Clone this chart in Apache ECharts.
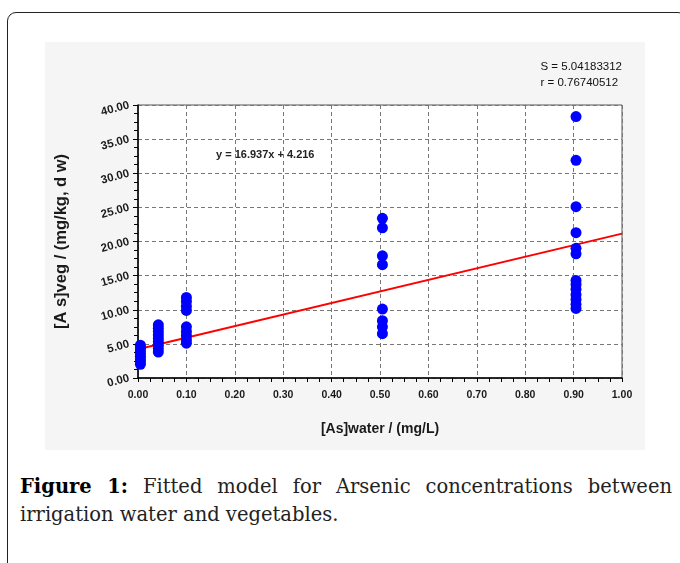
<!DOCTYPE html>
<html>
<head>
<meta charset="utf-8">
<script src="https://cdn.jsdelivr.net/npm/echarts@6/dist/echarts.min.js"></script>
<style>
  html, body { margin: 0; padding: 0; background: #fff; }
  body { width: 680px; height: 563px; position: relative; overflow: hidden; }
  #frame { position: absolute; left: 7px; top: 12px; width: 680px; height: 600px;
           border: 1.5px solid #222; border-radius: 9px 9px 0 0; box-sizing: border-box; }
  #chart { position: absolute; left: 45px; top: 42px; width: 600px; height: 408px; background: #f5f5f5; }
  .cap { position: absolute; left: 20px; width: 652px; font-family: 'DejaVu Serif', 'Liberation Serif', serif;
         font-size: 19.5px; color: #222; white-space: nowrap; }
  #cap1 { top: 475px; text-align: justify; text-align-last: justify; white-space: normal; }
  #cap2 { top: 503px; }
  .cap b { color: #000; }
</style>
</head>
<body>
<div id="frame"></div>
<div id="chart"></div>
<div class="cap" id="cap1"><b>Figure 1:</b> Fitted model for Arsenic concentrations between</div>
<div class="cap" id="cap2">irrigation water and vegetables.</div>
<script>
// ---- data ----
const waterLevels = [0.005, 0.042, 0.10, 0.505, 0.905];
const vegAt000 = [2.0, 2.4, 2.8, 3.2, 3.6, 4.0, 4.4, 4.8];
const vegAt004 = [3.8, 4.3, 4.8, 5.3, 5.8, 6.3, 6.8, 7.3, 7.8];
const vegAt010 = [5.1, 5.6, 6.2, 6.8, 7.5, 9.9, 10.5, 11.2, 11.8];
const vegAt050 = [6.5, 7.5, 8.4, 10.1, 16.6, 17.9, 22.0, 23.4];
const vegAt090 = [10.2, 10.8, 11.5, 12.2, 13.0, 13.7, 14.3, 18.2, 19.0, 21.3, 25.1, 31.9, 38.3];
const fitSlope = 16.937;
const fitIntercept = 4.216;
const fitRange = [0, 1];
const statS = '5.04183312';
const statR = '0.76740512';
const xTickStep = 0.1;
const yTickStep = 5;

const groups = [vegAt000, vegAt004, vegAt010, vegAt050, vegAt090];
const scatterData = [];
groups.forEach((g, i) => g.forEach(v => scatterData.push([waterLevels[i], v])));
const fitData = fitRange.map(x => [x, fitSlope * x + fitIntercept]);

const chart = echarts.init(document.getElementById('chart'), null, { renderer: 'canvas' });
const labelFont = { fontFamily: 'Liberation Sans, Arial, sans-serif', fontWeight: 'bold', color: '#1a1a1a' };
chart.setOption({
  animation: false,
  backgroundColor: '#f5f5f5',
  grid: { left: 93, top: 63, right: 23, bottom: 72, show: true, backgroundColor: '#ffffff',
          borderColor: '#555', borderWidth: 1 },
  xAxis: {
    type: 'value', min: 0, max: 1, interval: xTickStep,
    name: '[As]water / (mg/L)', nameLocation: 'middle', nameGap: 44,
    nameTextStyle: Object.assign({}, labelFont, { fontSize: 14 }),
    axisLine: { show: true, onZero: false, lineStyle: { color: '#000', width: 1.5 } },
    axisTick: { show: true, inside: false, length: 4, lineStyle: { color: '#000' } },
    minorTick: { show: true, splitNumber: 4, length: 4, lineStyle: { color: '#000' } },
    axisLabel: Object.assign({}, labelFont, { fontSize: 10.5, margin: 12, formatter: v => v.toFixed(2) }),
    splitLine: { show: true, lineStyle: { color: '#777', type: [4, 3], width: 1 } }
  },
  yAxis: {
    type: 'value', min: 0, max: 40, interval: yTickStep,
    name: '[A s]veg / (mg/kg, d w)', nameLocation: 'middle', nameGap: 68, nameRotate: 90,
    nameTextStyle: Object.assign({}, labelFont, { fontSize: 16.5 }),
    axisLine: { show: true, onZero: false, lineStyle: { color: '#000', width: 1.5 } },
    axisTick: { show: true, inside: false, length: 5, lineStyle: { color: '#000' } },
    minorTick: { show: true, splitNumber: 4, length: 4, lineStyle: { color: '#000' } },
    axisLabel: Object.assign({}, labelFont, { fontSize: 11.5, margin: 9, rotate: 15, formatter: v => v.toFixed(2) }),
    splitLine: { show: true, lineStyle: { color: '#777', type: [4, 3], width: 1 } }
  },
  graphic: [
    { type: 'text', right: 23, top: 17, style: { text: 'S = ' + statS + '\nr = ' + statR, align: 'right',
      font: '11.5px "Liberation Sans Narrow", "Liberation Sans", sans-serif', fill: '#111', lineHeight: 16 } },
    { type: 'text', left: 171, top: 107, style: { text: 'y = 16.937x + 4.216',
      font: 'bold 11px "Liberation Sans", sans-serif', fill: '#222' } }
  ],
  series: [
    { type: 'line', data: fitData, symbol: 'none', z: 3,
      lineStyle: { color: '#ff0000', width: 2 } },
    { type: 'scatter', data: scatterData, symbolSize: 11, z: 4,
      itemStyle: { color: '#0000ff', opacity: 1 } }
  ]
});
</script>
</body>
</html>
